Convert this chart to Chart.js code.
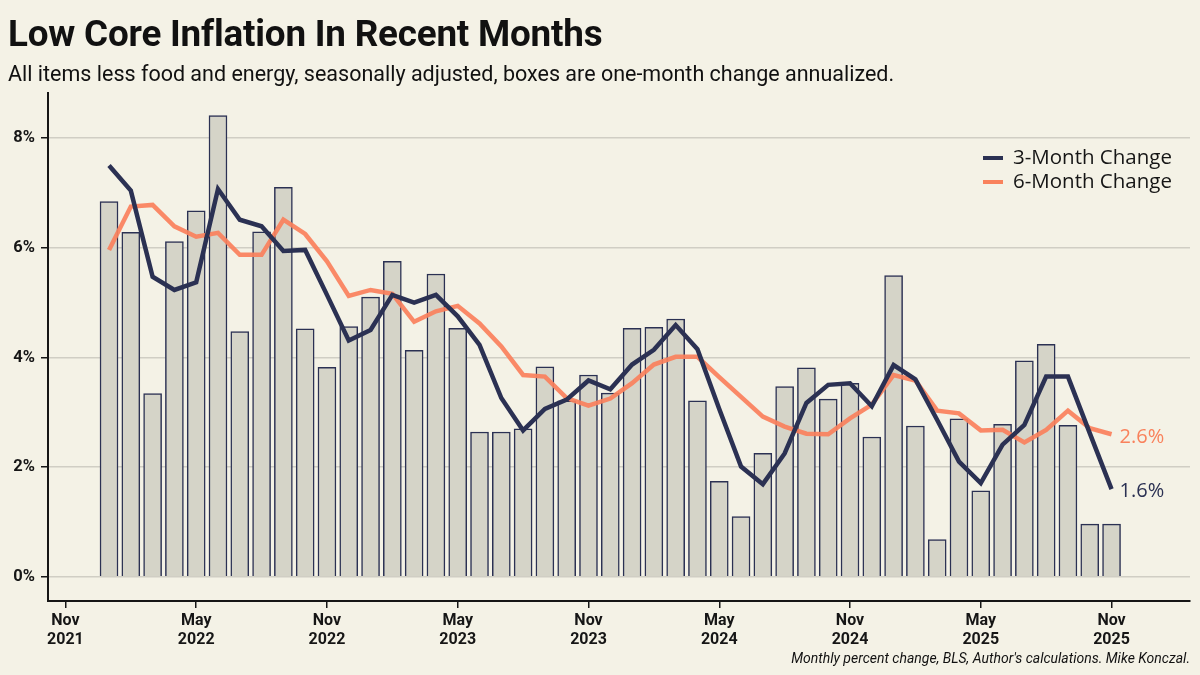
<!DOCTYPE html>
<html>
<head>
<meta charset="utf-8">
<script src="https://cdn.jsdelivr.net/npm/chart.js@4.4.1/dist/chart.umd.min.js"></script>
<style>
  html, body { margin: 0; padding: 0; background: #f4f2e6; }
  #wrap { position: relative; width: 1200px; height: 675px; overflow: hidden; }
  #title { position: absolute; left: 8px; top: 12px; font: bold 36.8px Roboto, sans-serif; color: #111; letter-spacing: -0.2px; }
  #subtitle { position: absolute; left: 8px; top: 61px; font: 21.5px Roboto, sans-serif; color: #111; }
  #note { position: absolute; right: 10px; top: 650px; font: italic 14px Roboto, sans-serif; color: #111; }
  canvas { position: absolute; left: 0; top: 0; }
</style>
</head>
<body>
<div id="wrap">
  <canvas id="chart" width="1200" height="675"></canvas>
  <div id="title">Low Core Inflation In Recent Months</div>
  <div id="subtitle">All items less food and energy, seasonally adjusted, boxes are one-month change annualized.</div>
  <div id="note">Monthly percent change, BLS, Author's calculations. Mike Konczal.</div>
</div>
<script>
// months Jan 2022 .. Nov 2025 (index 0 = Jan 2022)
const months = [
  "2022-01","2022-02","2022-03","2022-04","2022-05","2022-06","2022-07","2022-08","2022-09","2022-10","2022-11","2022-12",
  "2023-01","2023-02","2023-03","2023-04","2023-05","2023-06","2023-07","2023-08","2023-09","2023-10","2023-11","2023-12",
  "2024-01","2024-02","2024-03","2024-04","2024-05","2024-06","2024-07","2024-08","2024-09","2024-10","2024-11","2024-12",
  "2025-01","2025-02","2025-03","2025-04","2025-05","2025-06","2025-07","2025-08","2025-09","2025-10","2025-11"
];

// one-month change annualized (boxes)
const oneMonth = [
  6.84, 6.28, 3.34, 6.11, 6.67, 8.41, 4.47, 6.29, 7.10, 4.52, 3.82, 4.56,
  5.10, 5.75, 4.13, 5.52, 4.53, 2.64, 2.64, 2.70, 3.83, 3.21, 3.68, 3.35,
  4.53, 4.55, 4.70, 3.21, 1.74, 1.10, 2.25, 3.47, 3.81, 3.24, 3.53, 2.55,
  5.49, 2.75, 0.68, 2.88, 1.57, 2.78, 3.94, 4.24, 2.76, 0.96, 0.96
];

const threeMonth = [
  7.50, 7.04, 5.47, 5.23, 5.37, 7.07, 6.51, 6.39, 5.94, 5.96, 5.14, 4.31,
  4.50, 5.14, 5.00, 5.14, 4.75, 4.23, 3.26, 2.67, 3.06, 3.23, 3.58, 3.42,
  3.87, 4.14, 4.59, 4.15, 3.06, 2.01, 1.69, 2.25, 3.17, 3.50, 3.53, 3.11,
  3.86, 3.60, 2.86, 2.10, 1.71, 2.41, 2.77, 3.65, 3.65, 2.62, 1.60
];

const sixMonth = [
  5.96, 6.75, 6.78, 6.39, 6.20, 6.27, 5.87, 5.87, 6.51, 6.25, 5.75, 5.12,
  5.23, 5.16, 4.65, 4.84, 4.94, 4.62, 4.20, 3.68, 3.65, 3.26, 3.12, 3.25,
  3.53, 3.87, 4.01, 4.01, 3.64, 3.28, 2.92, 2.74, 2.61, 2.60, 2.89, 3.14,
  3.68, 3.58, 3.03, 2.98, 2.67, 2.68, 2.45, 2.68, 3.03, 2.71, 2.60
];

// x ticks, as month index (Nov 2021 = -2)
const xTickPos = [-2, 4, 10, 16, 22, 28, 34, 40, 46];
const xTickLabels = [
  ["Nov", "2021"], ["May", "2022"], ["Nov", "2022"], ["May", "2023"], ["Nov", "2023"],
  ["May", "2024"], ["Nov", "2024"], ["May", "2025"], ["Nov", "2025"]
];
const yTicks = [0, 2, 4, 6, 8];

const navy = "#2b3153";
const orange = "rgba(250,128,92,0.92)";
const ink = "#161616";

const pts = arr => arr.map((v, i) => ({ x: i, y: v }));

const overlay = {
  id: "overlay",
  afterDatasetsDraw(chart) {
    const c = chart.ctx;
    const xs = chart.scales.x, ys = chart.scales.y;
    const last = months.length - 1;
    c.save();
    c.font = "20px 'Open Sans', sans-serif";
    c.textBaseline = "middle";
    c.textAlign = "left";
    c.fillStyle = "#f9825c";
    c.fillText(sixMonth[last].toFixed(1) + "%", xs.getPixelForValue(last) + 8, ys.getPixelForValue(sixMonth[last]) + 3);
    c.fillStyle = navy;
    c.fillText(threeMonth[last].toFixed(1) + "%", xs.getPixelForValue(last) + 8, ys.getPixelForValue(threeMonth[last]) + 2);

    // legend
    const items = [["3-Month Change", navy], ["6-Month Change", "#f9825c"]];
    items.forEach((it, k) => {
      const y = 158 + k * 24;
      c.strokeStyle = it[1];
      c.lineWidth = 4;
      c.beginPath();
      c.moveTo(983, y);
      c.lineTo(1003, y);
      c.stroke();
      c.fillStyle = ink;
      c.font = "20.5px 'Open Sans', sans-serif";
      c.fillText(it[0], 1013, y);
    });
    c.restore();
  }
};

new Chart(document.getElementById("chart"), {
  type: "bar",
  data: {
    datasets: [
      {
        type: "line",
        label: "3-Month Change",
        data: pts(threeMonth),
        borderColor: navy,
        borderWidth: 4.5,
        pointRadius: 0,
        tension: 0,
        order: 0
      },
      {
        type: "line",
        label: "6-Month Change",
        data: pts(sixMonth),
        borderColor: orange,
        borderWidth: 4.5,
        pointRadius: 0,
        tension: 0,
        order: 1
      },
      {
        type: "bar",
        label: "One-month change",
        data: pts(oneMonth),
        backgroundColor: "#d5d4c8",
        borderColor: navy,
        borderWidth: 1.5,
        barThickness: 18,
        order: 2
      }
    ]
  },
  options: {
    responsive: false,
    animation: false,
    layout: { padding: { top: 93, right: 10, left: 0, bottom: 0 } },
    plugins: { legend: { display: false }, tooltip: { enabled: false } },
    scales: {
      x: {
        type: "linear",
        offset: false,
        min: -2.8,
        max: 49.6,
        afterBuildTicks: s => { s.ticks = xTickPos.map(v => ({ value: v })); },
        afterFit: s => { s.height = 74; },
        grid: { offset: false, drawOnChartArea: false, drawTicks: true, tickLength: 7, tickColor: ink, lineWidth: 1.5 },
        border: { color: ink, width: 2 },
        ticks: {
          autoSkip: false,
          maxRotation: 0,
          padding: 4,
          color: ink,
          font: { family: "Roboto", size: 16, weight: "bold", lineHeight: 1.15 },
          callback: v => xTickLabels[xTickPos.indexOf(v)]
        }
      },
      y: {
        min: -0.44,
        max: 8.82,
        afterBuildTicks: s => { s.ticks = yTicks.map(v => ({ value: v })); },
        afterFit: s => { s.width = 48; },
        grid: { color: "#d0cec4", lineWidth: 1.5, tickColor: ink, tickLength: 7 },
        border: { color: ink, width: 2 },
        ticks: {
          color: ink,
          padding: 6,
          font: { family: "Roboto", size: 16.5, weight: "bold" },
          callback: v => v + "%"
        }
      }
    }
  },
  plugins: [overlay]
});
</script>
</body>
</html>
